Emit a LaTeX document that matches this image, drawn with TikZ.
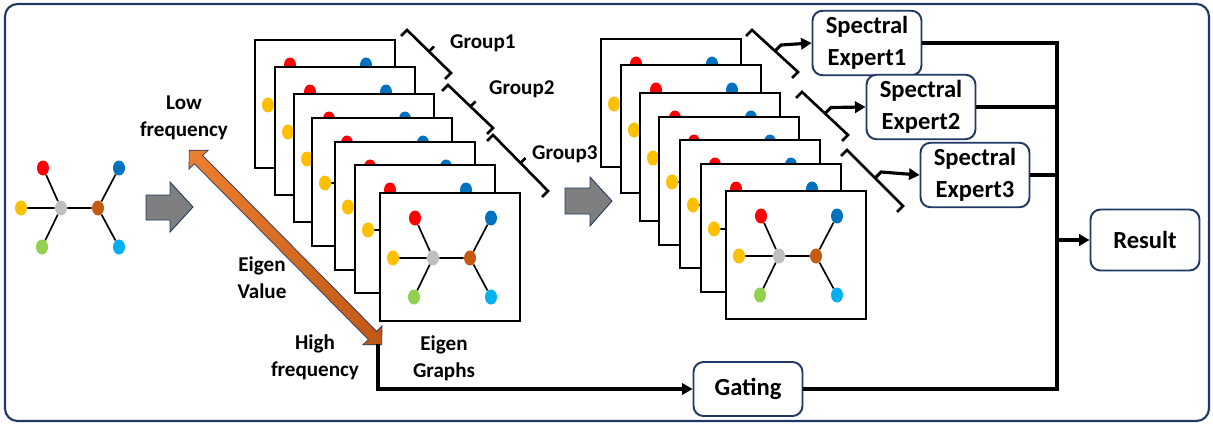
\documentclass[tikz,border=0pt]{standalone}
\usepackage{fontspec}
\setmainfont{Carlito}
\usetikzlibrary{arrows.meta,calc,shapes.geometric,shapes.arrows}

\definecolor{navy}{RGB}{32,56,100}
\definecolor{vred}{RGB}{255,0,0}
\definecolor{vblue}{RGB}{0,112,192}
\definecolor{vyellow}{RGB}{255,192,0}
\definecolor{vgray}{RGB}{191,191,191}
\definecolor{vbrown}{RGB}{197,90,17}
\definecolor{vgreen}{RGB}{146,208,80}
\definecolor{vcyan}{RGB}{0,176,240}
\definecolor{evlight}{RGB}{236,128,48}
\definecolor{evdark}{RGB}{192,88,22}
\definecolor{blkgray}{RGB}{127,127,127}

\tikzset{
  vtx/.style={ellipse, inner sep=0pt, minimum width=0.24cm, minimum height=0.3cm, fill=#1},
  link/.style={line width=0.95pt},
  card/.style={draw, fill=white, line width=1.4pt, minimum width=2.8cm,
    minimum height=2.56cm, anchor=north west, inner sep=0pt},
  brace/.style={line width=1.5pt},
  conn/.style={line width=1.8pt},
  headed/.style={-{Triangle[length=6pt,width=6.5pt]}},
  box/.style={draw=navy, line width=1.1pt, rounded corners=0.2cm, fill=white,
    minimum width=2.18cm, minimum height=1.2cm, align=center,
    font=\bfseries\fontsize{14}{18}\selectfont},
  lbl/.style={align=center, font=\bfseries\fontsize{12}{15.5}\selectfont},
  blk/.style={fill=blkgray, draw=navy, line width=0.5pt},
  % small graph, placed by its grey centre vertex
  egraph/.pic={
    \node[vtx=vgray] (-c) at (0,0) {};
    \node[vtx=vbrown] (-b) at (37,0) {};
    \node[vtx=vyellow] (-y) at (-40,0) {};
    \node[vtx=vred] (-r) at (-18,-40) {};
    \node[vtx=vblue] (-u) at (58,-40) {};
    \node[vtx=vgreen] (-g) at (-19,39) {};
    \node[vtx=vcyan] (-l) at (58,39) {};
    \draw[link] (-y) -- (-c) -- (-b) (-r) -- (-c) -- (-g) (-u) -- (-b) -- (-l);
  }
}

\begin{document}
\begin{tikzpicture}[x=0.02cm, y=-0.02cm]
  \useasboundingbox (0,0) rectangle (1213,429);
  \draw[navy, line width=1.2pt, rounded corners=0.25cm] (5,4) rectangle (1209,421);

  % input graph
  \pic (src) at (61,208) {egraph};

  % block arrows
  \draw[blk] (146,195) -- (170,195) -- (170,182) -- (193,207) -- (170,232)
    -- (170,220) -- (146,220) -- cycle;
  \draw[blk] (565,188) -- (590,188) -- (590,177) -- (612,201) -- (590,226)
    -- (590,214) -- (565,214) -- cycle;

  % eigenvalue axis
  \node[double arrow, rotate=-45.3, minimum height=5.48cm, inner sep=0.11cm,
    double arrow head extend=0.15cm, draw=navy, line width=0.4pt,
    left color=evlight, right color=evdark] (ev) at (285.5,247.5) {};

  % eigen graphs
  \foreach \cx/\cy [count=\i] in {254/39,274/66,293/93,311/117,334/141,354/164,379/192}{
    \node[card] (la\i) at (\cx,\cy) {};
    \pic (lg\i) at (\cx+54,\cy+66) {egraph};
  }
  \foreach \cx/\cy [count=\i] in {600/38,620/64,639/92,658/116,679/139,700/163,725/190}{
    \node[card] (ra\i) at (\cx,\cy) {};
    \pic (rg\i) at (\cx+54,\cy+66) {egraph};
  }

  % group brackets
  \coordinate (g1a) at (407,30);  \coordinate (g1b) at (451,73);
  \coordinate (g2a) at (448,85);  \coordinate (g2b) at (493,128);
  \coordinate (g3a) at (493,135); \coordinate (g3b) at (548,191);
  \coordinate (s1a) at (752,30);  \coordinate (s1b) at (798,72);
  \coordinate (s2a) at (802,92);  \coordinate (s2b) at (848,135);
  \coordinate (s3a) at (847,150); \coordinate (s3b) at (903,206);
  \foreach \g in {g1,g2,g3,s1,s2,s3}
    \draw[brace] ($(\g a)+(-6,6)$) -- (\g a) -- (\g b) -- ($(\g b)+(-6,6)$);
  \foreach \g in {g1,g2,g3}
    \draw[brace] ($(\g a)!0.5!(\g b)$) -- ++(5,-5);

  \node[lbl, anchor=west] (grp1) at (444,43) {Group1};
  \node[lbl, anchor=west] (grp2) at (483,89) {Group2};
  \node[lbl, anchor=west] (grp3) at (526,154) {Group3};

  % text labels
  \node[lbl] (lowf) at (184,118) {Low\\frequency};
  \node[lbl] (evl) at (262,278) {Eigen\\Value};
  \node[lbl] (highf) at (315,357) {High\\frequency};
  \node[lbl] (egl) at (444,358) {Eigen\\Graphs};

  % experts, gating, result
  \node[box] (ex1) at (867,43) {Spectral\\Expert1};
  \node[box] (ex2) at (921,107) {Spectral\\Expert2};
  \node[box] (ex3) at (975,175) {Spectral\\Expert3};
  \node[box, minimum height=1.22cm] (res) at (1145,240) {Result};
  \node[box, minimum height=1.08cm] (gate) at (748,389) {Gating};

  \foreach \g/\e in {s1/ex1,s2/ex2,s3/ex3}
    \draw[conn, headed] ($(\g a)!0.5!(\g b)$) -- ++(6,-6) -- (\e.west);

  \coordinate (hf) at (378,344);
  \draw[conn, headed] (hf) |- (gate.west);

  \coordinate (busx) at (1057,0);
  \draw[conn] (ex1.east) -| (gate.east -| busx) -- (gate.east);
  \draw[conn] (ex2.east) -- (ex2.east -| busx);
  \draw[conn] (ex3.east) -- (ex3.east -| busx);
  \draw[conn, headed] (res.west -| busx) -- (res.west);
\end{tikzpicture}
\end{document}
